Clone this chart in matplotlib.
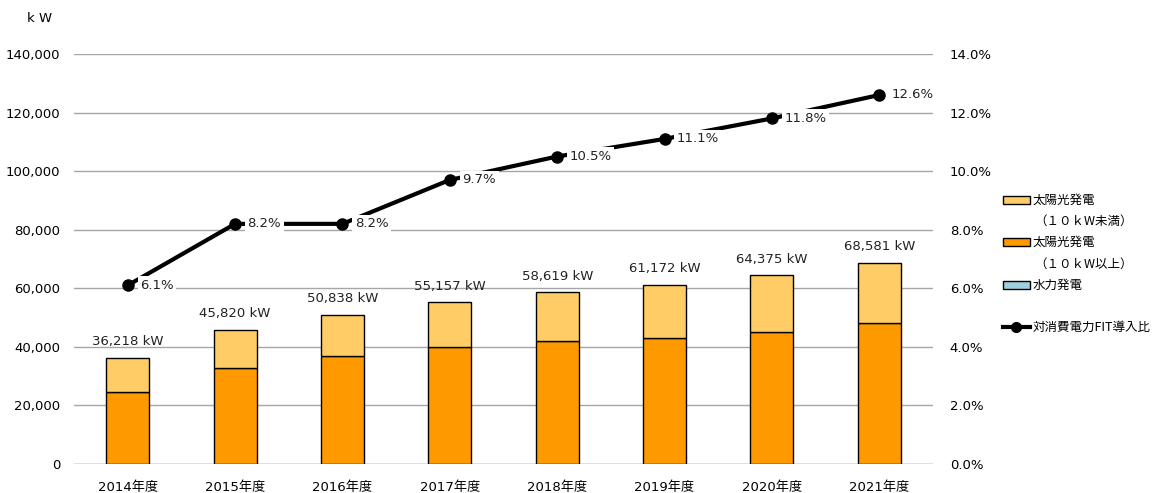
import matplotlib
matplotlib.use("Agg")
import matplotlib.pyplot as plt
from matplotlib.patches import Rectangle
from matplotlib.lines import Line2D
import numpy as np

plt.rcParams['font.family'] = ['DejaVu Sans', 'Noto Sans CJK JP']

years = ['2014年度', '2015年度', '2016年度', '2017年度', '2018年度', '2019年度', '2020年度', '2021年度']
totals = [36218, 45820, 50838, 55157, 58619, 61172, 64375, 68581]
solar_large = [24600, 32900, 36900, 39950, 42000, 43000, 45100, 48050]
hydro = [0, 0, 0, 0, 0, 0, 0, 0]
solar_small = [t - l - h for t, l, h in zip(totals, solar_large, hydro)]
fit_ratio = [6.1, 8.2, 8.2, 9.7, 10.5, 11.1, 11.8, 12.6]

c_small = '#FFCC66'
c_large = '#FF9900'
c_hydro = '#9DD0E0'

W, H = 1163, 493
fig = plt.figure(figsize=(W / 100, H / 100), dpi=100)
ax = fig.add_axes([74/W, 1-464/H, 859/W, 410/H])
x = np.arange(len(years))
w = 0.4

ax.bar(x, hydro, w, color=c_hydro, edgecolor='black', linewidth=1, zorder=3)
ax.bar(x, solar_large, w, bottom=hydro, color=c_large, edgecolor='black', linewidth=1, zorder=3)
bot2 = [a + b for a, b in zip(hydro, solar_large)]
ax.bar(x, solar_small, w, bottom=bot2, color=c_small, edgecolor='black', linewidth=1, zorder=3)

for xi, t in zip(x, totals):
    ax.annotate(f'{t:,} kW', (xi, t), xytext=(0, 7), textcoords='offset points',
                ha='center', va='bottom', fontsize=9.5, color='#222222')

ax.set_ylim(0, 140000)
ax.set_xlim(-0.5, len(years) - 0.5)
ax.set_yticks(np.arange(0, 140001, 20000))
ax.set_yticklabels([f'{v:,}' for v in range(0, 140001, 20000)], fontsize=9.5)
ax.set_xticks(x)
ax.set_xticklabels(years, fontsize=9.5)
ax.tick_params(length=0, pad=10)
ax.tick_params(axis='x', pad=12)
ax.grid(axis='y', color='#A6A6A6', linewidth=1, zorder=0)
for s in ['top', 'right', 'left', 'bottom']:
    ax.spines[s].set_visible(False)
ax.axhline(0, color='#A6A6A6', linewidth=1, zorder=1)

ax2 = ax.twinx()
ax2.set_ylim(0, 14)
ax2.set_yticks(np.arange(0, 14.1, 2))
ax2.set_yticklabels([f'{v:.1f}%' for v in np.arange(0, 14.1, 2)], fontsize=9.5)
ax2.tick_params(length=0, pad=12)
for s in ['top', 'right', 'left', 'bottom']:
    ax2.spines[s].set_visible(False)
ax2.plot(x, fit_ratio, color='black', linewidth=3, marker='o', markersize=8, zorder=4)
for xi, v in zip(x, fit_ratio):
    ax2.annotate(f'{v:.1f}%', (xi, v), xytext=(9, 0), textcoords='offset points',
                 ha='left', va='center', fontsize=9.5, color='#222222',
                 bbox=dict(boxstyle='square,pad=0.2', facecolor='white', edgecolor='none'), zorder=5)

fig.text(40/W, 1-18/H, 'k W', fontsize=9.5, ha='center', va='center')

# legend drawn by hand to match the layout
jp = ['Noto Sans CJK JP', 'DejaVu Sans']
def fx(px):
    return px / W
def fy(py):
    return 1 - py / H

for py, col in [(200, c_small), (242, c_large), (285, c_hydro)]:
    fig.patches.append(Rectangle((fx(1003), fy(py + 4)), 27/W, 8/H, transform=fig.transFigure,
                                 facecolor=col, edgecolor='black', linewidth=1))
legend_rows = [(200, 1033, '太陽光発電'), (221, 1034, '（１０ｋW未満）'),
               (242, 1033, '太陽光発電'), (264, 1034, '（１０ｋW以上）'),
               (285, 1033, '水力発電'), (327, 1033, '対消費電力FIT導入比')]
for py, px, t in legend_rows:
    fig.text(fx(px), fy(py), t, family=jp, fontsize=9, ha='left', va='center')
fig.add_artist(Line2D([fx(1003), fx(1030)], [fy(327), fy(327)], transform=fig.transFigure,
                      color='black', linewidth=3))
fig.add_artist(Line2D([fx(1016.5)], [fy(327)], transform=fig.transFigure,
                      color='black', marker='o', markersize=7, linestyle='none'))

fig.savefig('out.png', dpi=100)
